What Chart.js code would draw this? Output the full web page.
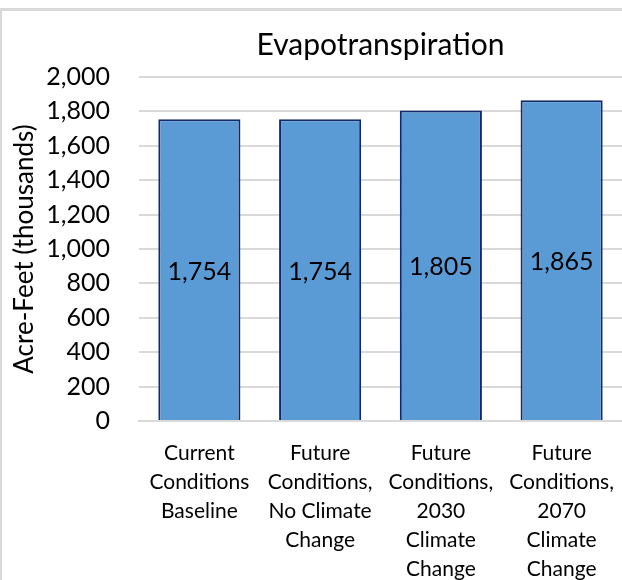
<!DOCTYPE html>
<html>
<head>
<meta charset="utf-8">
<script src="https://cdn.jsdelivr.net/npm/chart.js@4.4.0/dist/chart.umd.min.js"></script>
<style>
  html, body { margin: 0; padding: 0; background: #fff; }
  #frame {
    position: absolute; left: 0; top: 8px; width: 620px; height: 572px;
    border-top: 3px solid #d9d9d9; border-left: 2px solid #d9d9d9;
  }
  #wrap { position: absolute; left: 3px; top: 12px; width: 619px; height: 568px; }
</style>
</head>
<body>
<div id="frame"></div>
<div id="wrap"><canvas id="etChart"></canvas></div>
<script>
// Chart data
const categories = [
  ['Current', 'Conditions', 'Baseline'],
  ['Future', 'Conditions,', 'No Climate', 'Change'],
  ['Future', 'Conditions,', '2030', 'Climate', 'Change'],
  ['Future', 'Conditions,', '2070', 'Climate', 'Change']
];
const etValues = [1754, 1754, 1805, 1865];
const yTicks = [0, 200, 400, 600, 800, 1000, 1200, 1400, 1600, 1800, 2000];

const fontFam = 'Lato, "Open Sans", sans-serif';
const fmt = v => v.toLocaleString('en-US');

// value labels drawn in the middle of each bar
const barLabels = {
  id: 'barLabels',
  afterDatasetsDraw(chart) {
    const c = chart.ctx;
    const meta = chart.getDatasetMeta(0);
    c.save();
    c.font = '25px ' + fontFam;
    c.fillStyle = '#000';
    c.textAlign = 'center';
    c.textBaseline = 'middle';
    meta.data.forEach((bar, i) => {
      const mid = (bar.y + bar.base) / 2 + 2;
      c.fillText(fmt(etValues[i]), bar.x, mid);
    });
    c.restore();
  }
};

const ctx = document.getElementById('etChart').getContext('2d');
const etChart = new Chart(ctx, {
  type: 'bar',
  data: {
    labels: categories,
    datasets: [{
      data: etValues,
      backgroundColor: '#5b9bd5',
      borderColor: '#102a6b',
      borderWidth: 2,
      categoryPercentage: 1,
      barPercentage: 0.68
    }]
  },
  options: {
    responsive: true,
    maintainAspectRatio: false,
    animation: false,
    layout: { padding: 0 },
    plugins: {
      legend: { display: false },
      tooltip: { enabled: false },
      title: {
        display: true,
        text: 'Evapotranspiration',
        fullSize: false,
        color: '#000',
        font: { family: fontFam, size: 30, weight: 'normal' },
        padding: { top: 15, bottom: 14 }
      }
    },
    scales: {
      x: {
        grid: { display: false },
        border: { color: '#d9d9d9', width: 2 },
        afterFit: axis => {
          axis.height = 159;
          axis.paddingLeft = 0;
          axis.paddingRight = 0;
        },
        ticks: {
          color: '#000',
          maxRotation: 0,
          autoSkip: false,
          padding: 10,
          font: { family: fontFam, size: 21, lineHeight: 1.38 }
        }
      },
      y: {
        min: 0,
        max: 2000,
        afterBuildTicks: axis => { axis.ticks = yTicks.map(v => ({ value: v })); },
        afterFit: axis => { axis.width = 136; },
        grid: { color: '#d9d9d9', lineWidth: 2, drawTicks: false },
        border: { display: false },
        ticks: {
          color: '#000',
          autoSkip: false,
          padding: 29,
          font: { family: fontFam, size: 25 },
          callback: v => fmt(v)
        },
        title: {
          display: true,
          text: 'Acre-Feet (thousands)',
          color: '#000',
          font: { family: fontFam, size: 26, weight: 'normal' },
          padding: { top: 6, bottom: 2 }
        }
      }
    }
  },
  plugins: [barLabels]
});
</script>
</body>
</html>
